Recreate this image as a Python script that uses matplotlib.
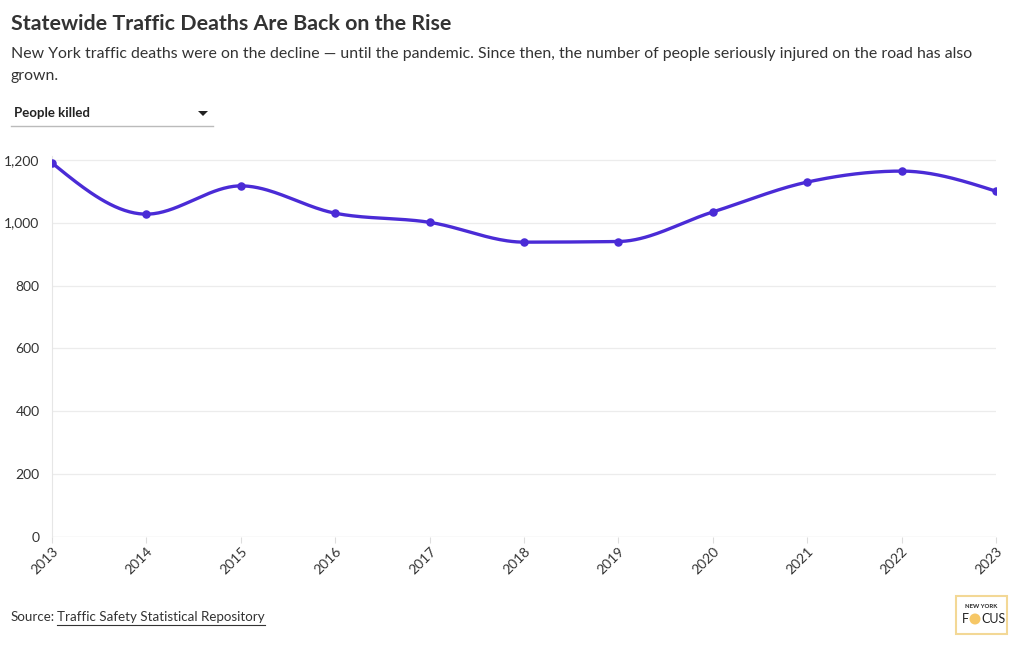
import numpy as np
import matplotlib.pyplot as plt
from matplotlib.patches import Rectangle, Ellipse, Polygon

# datos
years = [2013, 2014, 2015, 2016, 2017, 2018, 2019, 2020, 2021, 2022, 2023]
killed = [1190, 1027, 1117, 1030, 1001, 938, 940, 1034, 1129, 1164, 1100]
yticks = [0, 200, 400, 600, 800, 1000, 1200]

LINE = "#4a2bd6"
TXT = "#333333"
plt.rcParams['font.family'] = ['Lato', 'DejaVu Sans']


def monotone_x(x, y, n=40):
    """Curva tipo d3.curveMonotoneX entre los puntos."""
    x = np.asarray(x, float)
    y = np.asarray(y, float)
    h = np.diff(x)
    s = np.diff(y) / h
    t = np.zeros(len(x))
    for i in range(1, len(x) - 1):
        p = (s[i - 1] * h[i] + s[i] * h[i - 1]) / (h[i - 1] + h[i])
        t[i] = (np.sign(s[i - 1]) + np.sign(s[i])) * min(abs(s[i - 1]), abs(s[i]), 0.5 * abs(p))
    t[0] = (3 * s[0] - t[1]) / 2
    t[-1] = (3 * s[-1] - t[-2]) / 2
    xs, ys = [], []
    for i in range(len(x) - 1):
        u = np.linspace(0, 1, n)
        h00 = 2 * u**3 - 3 * u**2 + 1
        h10 = u**3 - 2 * u**2 + u
        h01 = -2 * u**3 + 3 * u**2
        h11 = u**3 - u**2
        xs.extend(x[i] + u * h[i])
        ys.extend(h00 * y[i] + h10 * h[i] * t[i] + h01 * y[i + 1] + h11 * h[i] * t[i + 1])
    return np.array(xs), np.array(ys)


fig = plt.figure(figsize=(10.2, 6.5), dpi=100)
W, H = 1020, 650
ax = fig.add_axes([52 / W, 1 - 537 / H, (996 - 52) / W, (537 - 156) / H])

cx, cy = monotone_x(years, killed)
ax.plot(cx, cy, color=LINE, lw=2.4, zorder=3, solid_capstyle='round')
ax.scatter(years, killed, s=26, color=LINE, zorder=4)

ax.set_xlim(2013, 2023)
ax.set_ylim(0, 1212)
ax.set_yticks(yticks)
ax.set_yticklabels([f"{v:,}" for v in yticks])
ax.set_xticks(years)
ax.set_xticklabels([str(v) for v in years], rotation=45, ha='right', rotation_mode='anchor')
ax.tick_params(axis='y', length=0, pad=9, labelsize=10, labelcolor=TXT)
ax.tick_params(axis='x', length=4, color='#dddddd', pad=2, labelsize=10, labelcolor=TXT)
ax.grid(axis='y', color='#ececec', lw=0.9)
ax.set_axisbelow(True)
for side in ['top', 'right', 'bottom']:
    ax.spines[side].set_visible(False)
ax.spines['left'].set_color('#e6e6e6')
ax.axhline(0, color='#e6e6e6', lw=0.9, zorder=1)

# titulos
fig.text(11 / W, 1 - 24 / H, "Statewide Traffic Deaths Are Back on the Rise",
         fontsize=15.4, fontweight='bold', color=TXT, va='center')
fig.text(11 / W, 1 - 54 / H, "New York traffic deaths were on the decline \u2014 until the pandemic. "
         "Since then, the number of people seriously injured on the road has also",
         fontsize=11.4, color=TXT, va='center')
fig.text(11 / W, 1 - 76 / H, "grown.", fontsize=11.4, color=TXT, va='center')

# menu desplegable
fig.text(14 / W, 1 - 113 / H, "People killed", fontsize=9.5, fontweight='bold', color='#222222', va='center')
fig.add_artist(Polygon([[198 / W, 1 - 111 / H], [208 / W, 1 - 111 / H], [203 / W, 1 - 116 / H]],
                       closed=True, facecolor='#222222', edgecolor='none'))
fig.add_artist(plt.Line2D([11 / W, 213 / W], [1 - 126 / H, 1 - 126 / H], color='#bbbbbb', lw=1))

# fuente
fig.text(11 / W, 1 - 617 / H, "Source:", fontsize=9.6, color=TXT, va='center')
link = fig.text(57 / W, 1 - 617 / H, "Traffic Safety Statistical Repository", fontsize=9.6,
                color=TXT, va='center')
fig.canvas.draw()
bb = link.get_window_extent()
fig.add_artist(plt.Line2D([bb.x0 / W, bb.x1 / W], [1 - 625 / H, 1 - 625 / H], color=TXT, lw=0.8))

# logo
fig.add_artist(Rectangle((956 / W, 1 - 634 / H), 51 / W, 38 / H, facecolor='white',
                         edgecolor='#f3d896', lw=1.5))
fig.add_artist(Ellipse((975 / W, 1 - 619 / H), 11 / W, 11 / H, facecolor='#f6c766', edgecolor='none'))
fig.text(981 / W, 1 - 606 / H, "NEW YORK", fontsize=4.3, fontweight='bold', color='#222222',
         ha='center', va='center')
fig.text(969 / W, 1 - 619 / H, "F", fontsize=9, color='#222222', ha='right', va='center')
fig.text(981 / W, 1 - 619 / H, "CUS", fontsize=9, color='#222222', ha='left', va='center')

fig.savefig("out.png", dpi=100)
